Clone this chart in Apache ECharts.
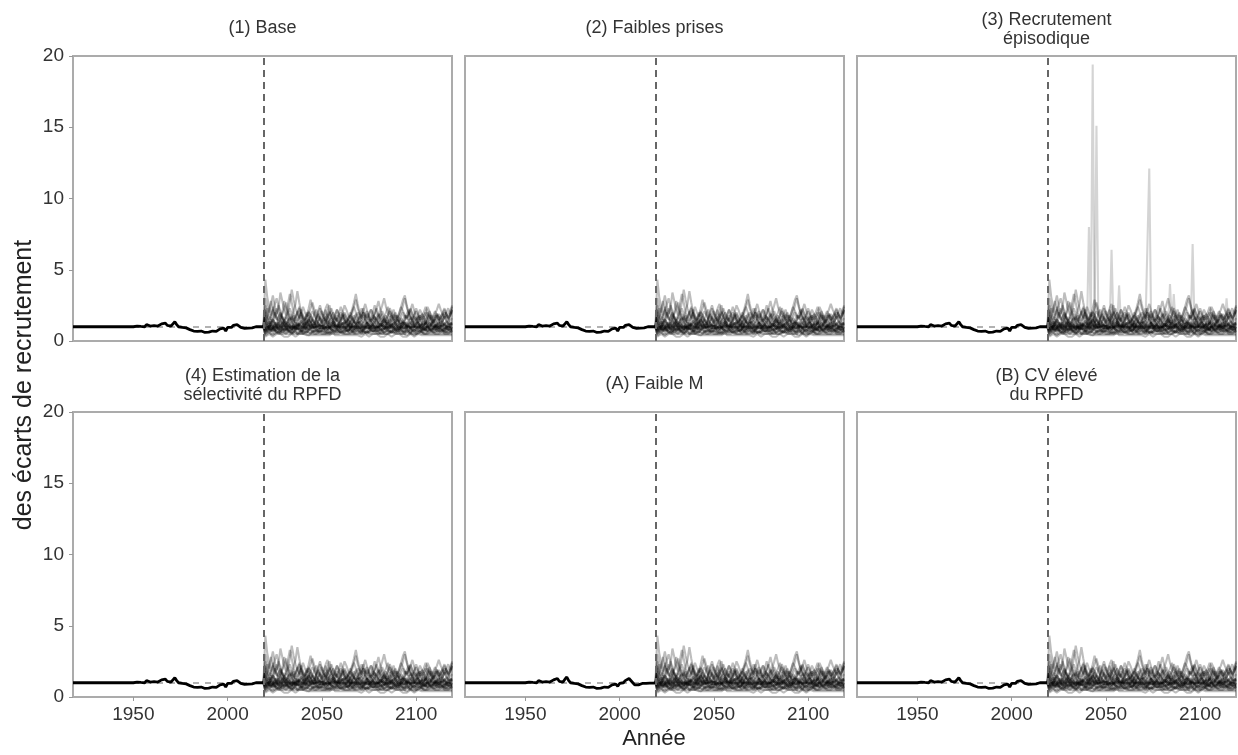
<!DOCTYPE html>
<html>
<head>
<meta charset="utf-8">
<script src="https://cdn.jsdelivr.net/npm/echarts@6/dist/echarts.min.js"></script>
<style>
html,body{margin:0;padding:0;background:#fff;}
#chart{width:1238px;height:755px;}
</style>
</head>
<body>
<div id="chart"></div>
<script>
// ---------- DATA ----------
const panelTitles = ['(1) Base', '(2) Faibles prises', '(3) Recrutement\népisodique',
  '(4) Estimation de la\nsélectivité du RPFD', '(A) Faible M', '(B) CV élevé\ndu RPFD'];
const yTicks = [0, 5, 10, 15, 20];
const xTicks = [1950, 2000, 2050, 2100];
const xRange = [1918, 2119];
const histStartYear = 1918;
const projectionYear = 2019;
const simStartYear = 2020;
const refLevel = 1;
const yAxisTitle = 'des écarts de recrutement';
const xAxisTitle = 'Année';

// historical recruitment deviations 1918..2019
const histValues = [
  1,1,1,1,1,1,1,1,1,1, 1,1,1,1,1,1,1,1,1,1, 1,1,1,1,1,1,1,1,1,1, 1,
  1.0,1.0,0.98,1.05,0.95,1.02,1.1,1.0,1.15,1.2,
  1.05,1.1,1.08,1.12,1.05,1.1,1.2,1.15,1.25,1.1,
  1.2,1.05,1.2,1.35,1.15,1.0,0.95,0.95,0.9,0.92,
  0.85,0.8,0.75,0.7,0.72,0.68,0.65,0.7,0.62,0.6,
  0.5,0.62,0.55,0.7,0.75,0.68,0.8,0.85,0.78,0.9,
  0.7,0.95,1.05,0.95,1.1,1.0,1.15,1.05,0.95,0.85,
  0.88,0.85,0.9,0.95,0.92,0.95,1.0,0.98,1.0,0.97,
  1.0
];
// panel (A) historical series (slightly larger bump near 2005)
const histValuesA = [
  1,1,1,1,1,1,1,1,1,1, 1,1,1,1,1,1,1,1,1,1, 1,1,1,1,1,1,1,1,1,1, 1,
  1.0,1.0,0.98,1.05,0.95,1.02,1.1,1.0,1.15,1.2,
  1.05,1.1,1.08,1.12,1.05,1.1,1.2,1.15,1.3,1.1,
  1.2,1.05,1.25,1.4,1.15,1.0,0.95,0.95,0.9,0.92,
  0.85,0.8,0.75,0.7,0.72,0.68,0.65,0.7,0.62,0.6,
  0.5,0.62,0.55,0.7,0.75,0.68,0.8,0.85,0.78,0.9,
  0.75,0.95,1.05,1.0,1.15,1.1,1.3,1.2,1.0,0.85,
  0.88,0.85,0.9,0.95,0.92,0.95,1.0,0.98,1.0,0.97,
  1.0
];

// projected runs 2020..2119
const simRuns = [
 [4.3,3.1,2.4,1.8,2.2,1.6,1.9,2.5,2.1,1.7,1.5,1.8,2.6,3.3,2.7,2.0,1.6,1.9,2.3,1.8,1.4,1.6,2.0,1.7,1.3,1.5,1.9,2.2,1.8,1.5,1.2,1.6,1.4,1.8,2.1,1.7,1.5,1.3,1.6,1.9,2.4,2.0,1.7,1.4,1.6,1.8,1.5,1.3,1.7,2.0,1.8,1.6,2.2,2.6,2.1,1.7,1.5,1.8,1.6,1.4,1.7,1.9,1.6,1.3,1.5,1.8,2.3,2.0,1.7,1.5,1.6,1.4,1.2,1.5,1.8,1.6,1.9,2.2,1.8,1.5,1.3,1.6,1.8,1.5,1.7,2.0,1.6,1.4,1.2,1.5,1.8,1.6,1.4,1.7,1.9,1.6,1.5,1.8,2.1,2.4],
 [3.0,2.4,2.0,2.6,3.2,2.5,1.9,2.3,3.4,2.8,2.2,1.8,2.0,2.7,3.6,2.9,2.3,1.9,1.6,2.0,2.4,2.0,1.7,1.9,2.3,2.7,2.2,1.8,1.6,1.9,2.1,1.8,2.3,2.6,2.0,1.7,1.5,1.8,2.2,1.9,1.6,2.0,2.5,2.2,1.8,1.6,1.9,2.4,2.9,2.3,1.9,1.7,2.0,1.8,1.6,1.9,2.2,2.0,1.7,1.5,1.8,2.1,2.5,3.0,2.4,2.0,1.7,1.9,2.2,1.8,1.6,1.9,2.4,2.1,1.8,1.6,1.9,2.3,1.9,1.7,1.5,1.8,2.2,1.9,1.7,2.0,2.4,2.1,1.8,1.6,1.9,2.2,2.6,2.2,1.9,1.7,2.0,2.3,1.9,2.0],
 [2.5,1.9,1.5,1.8,2.4,2.0,1.6,1.3,1.6,2.0,2.8,2.3,1.8,1.5,1.7,2.1,2.6,3.5,2.7,2.0,1.6,1.4,1.7,2.0,1.8,1.5,1.3,1.6,2.1,2.5,2.0,1.7,1.4,1.6,1.9,2.3,1.9,1.6,1.4,1.7,2.0,1.8,1.5,1.3,1.5,1.8,2.2,2.7,3.3,2.6,2.0,1.7,1.5,1.8,2.1,1.7,1.4,1.6,1.9,2.3,1.9,1.6,1.4,1.2,1.5,1.8,2.1,1.8,1.5,1.3,1.6,2.0,2.4,2.9,3.2,2.5,2.0,1.7,1.5,1.8,2.1,1.8,1.5,1.7,2.0,2.4,2.0,1.7,1.5,1.3,1.6,1.9,1.7,1.5,1.8,2.2,1.9,1.6,1.8,2.1],
 [1.8,1.4,1.2,1.5,1.3,1.0,1.2,1.6,1.9,1.5,1.2,1.0,1.3,1.6,1.4,1.1,0.9,1.2,1.5,1.8,1.4,1.1,1.3,1.0,1.2,1.5,1.3,1.0,0.9,1.2,1.5,1.8,2.2,1.7,1.3,1.1,1.3,1.6,1.4,1.1,1.0,1.2,1.4,1.2,1.0,1.3,1.6,1.4,1.2,1.0,1.3,1.5,1.8,1.5,1.2,1.0,1.1,1.4,1.7,1.4,1.2,1.0,1.3,1.5,1.2,1.0,1.2,1.4,1.7,2.0,1.6,1.3,1.1,1.3,1.0,1.2,1.5,1.3,1.1,1.4,1.6,1.3,1.0,1.2,1.4,1.2,1.5,1.8,1.4,1.2,1.0,1.3,1.5,1.2,1.4,1.7,1.4,1.2,1.1,1.3],
 [1.2,0.9,1.1,0.8,1.0,1.3,1.1,0.9,0.7,1.0,1.2,1.4,1.1,0.9,1.0,0.8,1.1,1.3,1.0,0.8,0.9,1.1,1.4,1.2,0.9,0.8,1.0,1.2,1.0,0.9,1.1,0.9,0.8,1.0,1.3,1.6,1.2,1.0,0.9,1.1,1.3,1.1,0.9,0.8,1.0,1.2,1.0,0.8,0.9,1.1,1.4,1.2,1.0,0.9,1.1,0.9,0.8,1.0,1.2,1.5,1.2,1.0,0.9,1.1,1.3,1.1,0.9,0.8,1.0,1.2,1.0,0.8,0.9,1.1,1.3,1.0,0.9,1.1,1.4,1.1,0.9,1.0,1.2,1.0,0.8,0.9,1.1,1.3,1.1,0.9,1.0,1.2,1.0,0.9,1.1,1.3,1.0,0.9,1.0,1.2],
 [0.7,1.0,0.8,1.1,0.9,0.7,0.8,1.0,1.2,0.9,0.8,0.7,0.9,1.1,0.9,0.8,1.0,0.8,0.7,0.9,1.1,1.3,1.0,0.8,0.7,0.9,0.8,1.0,1.2,0.9,0.8,0.9,0.7,0.8,1.0,0.9,1.1,0.9,0.8,0.7,0.9,1.0,0.8,1.1,1.3,1.0,0.8,0.7,0.9,0.8,1.0,0.9,0.7,0.8,1.0,1.2,0.9,0.8,0.9,1.1,0.9,0.7,0.8,1.0,0.9,0.8,1.0,1.2,1.0,0.8,0.7,0.9,1.1,0.9,0.8,0.9,0.7,0.8,1.0,0.9,1.1,1.3,1.0,0.8,0.9,0.8,1.0,0.9,0.7,0.8,1.0,0.9,0.8,1.0,1.2,0.9,0.8,0.9,1.0,0.8],
 [0.6,0.8,0.7,0.9,0.7,0.6,0.8,0.7,0.6,0.8,1.0,0.8,0.7,0.6,0.7,0.9,0.8,0.6,0.5,0.7,0.8,0.7,0.9,1.1,0.9,0.7,0.6,0.7,0.8,0.7,0.6,0.7,0.9,0.8,0.6,0.7,0.8,1.0,0.8,0.7,0.6,0.5,0.7,0.8,0.7,0.9,0.8,0.6,0.7,0.8,0.7,0.6,0.8,0.9,1.1,0.9,0.7,0.6,0.7,0.8,0.7,0.9,0.8,0.6,0.5,0.7,0.8,0.7,0.9,0.8,0.6,0.7,0.8,0.7,0.6,0.8,1.0,0.8,0.7,0.6,0.7,0.8,0.6,0.7,0.9,0.8,0.7,0.6,0.8,0.7,0.9,0.7,0.6,0.7,0.8,0.7,0.9,0.8,0.7,0.8],
 [0.4,0.5,0.6,0.5,0.4,0.5,0.7,0.6,0.5,0.4,0.5,0.6,0.5,0.4,0.5,0.6,0.7,0.5,0.4,0.5,0.6,0.5,0.4,0.4,0.5,0.6,0.5,0.7,0.6,0.5,0.4,0.5,0.6,0.5,0.4,0.5,0.6,0.5,0.4,0.5,0.7,0.6,0.5,0.4,0.5,0.6,0.5,0.4,0.5,0.6,0.5,0.4,0.5,0.6,0.7,0.5,0.4,0.5,0.6,0.5,0.4,0.5,0.6,0.5,0.4,0.5,0.6,0.7,0.6,0.5,0.4,0.5,0.6,0.5,0.4,0.4,0.5,0.6,0.5,0.4,0.5,0.6,0.7,0.5,0.4,0.5,0.6,0.5,0.4,0.5,0.6,0.5,0.4,0.5,0.6,0.5,0.4,0.5,0.6,0.5],
 [1.5,1.1,0.9,1.2,1.6,1.3,1.0,0.8,1.1,1.4,1.2,0.9,1.0,1.3,1.7,1.4,1.1,0.9,1.2,1.0,0.8,1.1,1.4,1.8,1.4,1.1,0.9,1.0,1.3,1.1,0.9,1.2,1.5,1.2,1.0,0.8,1.0,1.3,1.6,1.3,1.1,0.9,1.2,1.4,1.1,0.9,1.1,1.5,1.9,1.5,1.2,1.0,0.8,1.0,1.3,1.1,0.9,1.2,1.4,1.1,0.9,1.1,1.3,1.6,1.3,1.0,0.9,1.1,1.4,1.2,1.0,0.8,1.1,1.4,1.2,1.0,1.3,1.7,1.4,1.1,0.9,1.2,1.0,0.8,1.1,1.3,1.1,0.9,1.2,1.5,1.2,1.0,0.9,1.1,1.4,1.1,0.9,1.2,1.3,1.1],
 [0.9,0.7,0.6,0.8,1.0,0.8,0.6,0.5,0.7,0.9,0.7,0.6,0.8,0.7,0.5,0.6,0.8,1.0,0.8,0.6,0.7,0.9,0.7,0.6,0.5,0.7,0.8,0.6,0.7,0.9,1.1,0.8,0.6,0.7,0.5,0.6,0.8,0.7,0.6,0.8,0.9,0.7,0.6,0.8,0.7,0.5,0.6,0.8,1.0,0.8,0.6,0.7,0.8,0.6,0.5,0.7,0.9,0.7,0.6,0.8,0.7,0.5,0.6,0.8,1.0,0.8,0.7,0.6,0.7,0.9,0.7,0.6,0.8,0.7,0.5,0.6,0.7,0.9,0.7,0.6,0.8,1.0,0.8,0.6,0.7,0.5,0.6,0.8,0.7,0.6,0.7,0.9,0.7,0.6,0.8,0.7,0.6,0.7,0.9,0.8],
 [2.0,1.6,1.3,1.1,1.4,1.8,2.3,1.9,1.5,1.2,1.4,1.7,1.5,1.2,1.0,1.3,1.6,2.0,2.4,1.9,1.5,1.3,1.1,1.4,1.7,1.4,1.2,1.5,1.9,1.6,1.3,1.1,1.3,1.6,2.0,1.7,1.4,1.2,1.0,1.3,1.6,1.9,1.5,1.3,1.1,1.4,1.7,1.4,1.2,1.5,1.8,2.3,1.9,1.5,1.3,1.1,1.4,1.6,1.3,1.1,1.4,1.7,2.1,1.7,1.4,1.2,1.5,1.8,1.5,1.3,1.1,1.4,1.6,1.3,1.5,1.9,2.2,1.8,1.4,1.2,1.4,1.7,1.4,1.2,1.0,1.3,1.6,1.9,1.5,1.3,1.5,1.8,1.5,1.2,1.4,1.7,2.0,1.6,1.4,1.6],
 [1.1,0.8,1.0,1.2,0.9,0.8,1.0,0.9,1.1,1.3,1.0,0.8,0.7,0.9,1.1,0.9,1.0,1.2,1.0,0.8,0.9,0.8,1.0,1.2,1.4,1.1,0.9,0.8,1.0,0.9,0.8,1.0,1.1,0.9,0.8,1.0,1.2,1.0,0.9,1.1,0.9,0.8,1.0,0.9,0.7,0.9,1.1,1.3,1.0,0.9,0.8,1.0,0.9,1.1,0.9,0.8,0.9,1.1,1.0,0.8,1.0,1.2,1.0,0.9,0.8,1.0,0.9,1.1,1.3,1.0,0.9,0.8,1.0,1.1,0.9,0.8,1.0,0.9,0.8,1.0,1.2,1.0,0.9,1.1,0.9,0.8,1.0,1.2,1.0,0.9,0.8,1.0,1.1,0.9,1.0,0.8,0.9,1.1,1.0,0.9],
 [0.8,0.6,0.5,0.7,0.6,0.8,0.7,0.5,0.6,0.7,0.6,0.5,0.6,0.8,0.9,0.7,0.6,0.5,0.6,0.7,0.5,0.6,0.7,0.6,0.8,0.7,0.5,0.6,0.5,0.7,0.8,0.6,0.5,0.6,0.7,0.6,0.5,0.7,0.9,0.7,0.6,0.5,0.6,0.7,0.6,0.8,0.7,0.5,0.6,0.7,0.6,0.5,0.7,0.6,0.5,0.6,0.8,0.7,0.6,0.5,0.6,0.7,0.5,0.6,0.7,0.8,0.6,0.5,0.6,0.7,0.8,0.7,0.5,0.6,0.5,0.7,0.6,0.5,0.7,0.6,0.5,0.6,0.7,0.6,0.8,0.7,0.6,0.5,0.6,0.7,0.6,0.5,0.7,0.8,0.6,0.5,0.6,0.7,0.6,0.7],
 [1.3,1.7,2.2,2.8,2.3,1.8,1.5,1.7,2.0,1.6,1.4,1.2,1.5,1.9,1.6,1.4,1.7,2.1,1.7,1.4,1.2,1.5,1.8,2.3,2.9,2.4,1.9,1.6,1.4,1.7,1.5,1.3,1.6,1.9,1.6,1.3,1.5,1.8,2.2,1.8,1.5,1.7,2.0,1.7,1.4,1.2,1.5,1.8,1.5,1.3,1.6,1.9,2.3,1.9,1.6,1.4,1.7,2.0,2.5,2.0,1.7,1.4,1.2,1.5,1.8,1.5,1.3,1.6,1.9,1.6,1.4,1.7,2.0,2.5,3.0,2.4,1.9,1.6,1.4,1.7,1.5,1.3,1.6,1.9,1.6,1.4,1.7,2.1,1.7,1.4,1.6,1.9,1.6,1.4,1.7,2.0,1.7,1.5,1.8,2.2],
 [1.0,1.2,1.4,1.1,0.9,1.0,1.3,1.1,0.9,1.1,1.3,1.0,0.9,1.1,1.2,1.0,0.8,0.9,1.1,1.3,1.1,0.9,1.0,1.2,1.0,0.9,1.1,1.4,1.2,1.0,0.9,1.1,1.0,0.8,1.0,1.2,1.4,1.1,1.0,0.9,1.1,1.3,1.1,0.9,1.0,1.2,1.0,0.9,1.1,1.0,0.9,1.1,1.3,1.5,1.2,1.0,0.9,1.1,1.0,0.8,1.0,1.2,1.1,0.9,1.0,1.3,1.1,0.9,0.8,1.0,1.2,1.0,0.9,1.1,1.3,1.1,1.0,0.9,1.1,1.2,1.0,0.8,1.0,1.2,1.4,1.1,0.9,1.0,1.2,1.0,0.9,1.1,1.3,1.0,0.9,1.1,1.2,1.0,1.1,1.3],
 [0.5,0.7,0.9,0.8,0.6,0.7,0.9,0.8,0.7,0.6,0.8,1.0,0.8,0.7,0.6,0.8,0.7,0.9,0.7,0.6,0.7,0.8,0.6,0.7,0.9,0.8,1.0,0.8,0.7,0.6,0.7,0.9,0.8,0.6,0.7,0.8,0.7,0.6,0.8,1.0,0.8,0.7,0.6,0.7,0.9,0.8,0.6,0.7,0.8,0.7,0.9,0.8,0.6,0.7,0.6,0.8,0.9,0.7,0.6,0.7,0.8,0.7,0.9,1.0,0.8,0.7,0.6,0.8,0.7,0.6,0.7,0.9,0.8,0.6,0.7,0.8,0.7,0.6,0.8,0.9,0.7,0.6,0.7,0.8,0.6,0.7,0.9,0.8,0.7,0.6,0.8,0.7,0.6,0.8,0.9,0.7,0.8,0.6,0.7,0.8],
 [1.6,1.3,1.1,1.3,1.5,1.2,1.0,1.2,1.4,1.7,1.4,1.2,1.0,1.1,1.3,1.6,1.3,1.1,1.2,1.4,1.2,1.0,1.2,1.5,1.3,1.1,1.0,1.2,1.4,1.6,1.3,1.1,1.3,1.1,0.9,1.1,1.4,1.2,1.0,1.2,1.4,1.6,1.3,1.1,1.2,1.0,1.2,1.4,1.2,1.1,1.3,1.1,0.9,1.1,1.3,1.5,1.3,1.1,1.2,1.0,1.2,1.4,1.2,1.0,1.1,1.3,1.5,1.2,1.0,1.2,1.4,1.2,1.1,1.3,1.1,0.9,1.1,1.3,1.5,1.2,1.1,1.3,1.1,1.0,1.2,1.4,1.2,1.0,1.1,1.3,1.5,1.3,1.1,1.2,1.0,1.2,1.4,1.2,1.1,1.2],
 [0.3,0.4,0.5,0.4,0.3,0.4,0.5,0.6,0.5,0.4,0.3,0.4,0.3,0.4,0.5,0.4,0.3,0.4,0.5,0.4,0.5,0.6,0.4,0.3,0.4,0.3,0.4,0.5,0.4,0.3,0.4,0.5,0.4,0.3,0.4,0.5,0.6,0.4,0.3,0.4,0.3,0.4,0.5,0.4,0.3,0.4,0.3,0.4,0.5,0.4,0.4,0.3,0.4,0.5,0.4,0.3,0.4,0.5,0.6,0.5,0.4,0.3,0.4,0.3,0.4,0.5,0.4,0.3,0.4,0.5,0.4,0.5,0.4,0.3,0.4,0.3,0.4,0.5,0.4,0.3,0.4,0.5,0.6,0.4,0.3,0.4,0.3,0.4,0.5,0.4,0.3,0.4,0.5,0.4,0.3,0.4,0.5,0.4,0.3,0.4],
 [0.9,1.1,0.9,0.7,0.9,1.1,1.0,0.8,0.9,1.0,0.9,1.1,1.3,1.0,0.8,0.9,1.0,0.9,1.1,0.9,0.8,1.0,0.9,0.8,1.0,1.1,0.9,1.0,0.8,0.9,1.1,1.0,0.9,1.1,0.9,0.8,1.0,0.9,1.2,1.0,0.9,1.0,0.8,1.0,1.1,0.9,0.8,1.0,0.9,1.1,1.0,0.8,0.9,1.0,1.1,0.9,1.0,1.2,1.0,0.9,0.8,1.0,0.9,1.1,1.0,0.9,0.8,1.0,1.1,0.9,1.0,1.1,0.9,0.8,1.0,0.9,1.1,1.0,0.9,0.8,1.0,1.1,0.9,1.0,0.8,1.0,1.1,0.9,1.0,1.2,1.0,0.9,0.8,1.0,1.1,0.9,1.0,0.8,0.9,1.0],
 [2.2,1.7,1.4,1.7,2.1,2.6,3.0,2.4,1.9,1.6,1.4,1.6,1.9,2.3,1.9,1.6,1.3,1.5,1.8,2.2,1.8,1.5,1.3,1.5,1.8,2.1,1.8,1.5,1.3,1.6,1.9,1.6,1.4,1.2,1.5,1.7,2.0,1.7,1.5,1.3,1.5,1.8,1.5,1.3,1.6,2.0,1.7,1.4,1.2,1.4,1.7,1.5,1.3,1.6,1.9,1.6,1.4,1.6,1.9,2.3,2.8,2.2,1.8,1.5,1.3,1.5,1.7,1.4,1.3,1.5,1.8,1.6,1.4,1.2,1.5,1.8,1.5,1.4,1.6,1.9,2.3,1.9,1.6,1.4,1.7,1.4,1.2,1.5,1.8,1.5,1.3,1.6,1.9,1.6,1.4,1.7,1.5,1.3,1.7,2.5],
 [0.8,1.0,0.9,0.7,0.8,1.0,1.1,0.9,0.8,0.9,0.7,0.8,1.0,0.9,0.8,1.1,1.2,0.9,0.8,0.7,0.9,1.0,0.8,0.9,1.1,0.9,0.7,0.8,0.9,1.0,0.8,0.7,0.9,1.1,1.0,0.8,0.9,0.8,0.7,0.9,1.0,1.2,0.9,0.8,0.7,0.8,1.0,0.9,0.8,1.0,0.9,0.7,0.8,0.9,1.1,1.0,0.8,0.7,0.9,0.8,1.0,0.9,0.8,0.7,0.9,1.0,1.2,1.0,0.8,0.9,0.8,0.7,0.9,1.0,0.8,0.9,1.1,0.9,0.8,0.7,0.9,0.8,1.0,1.1,0.9,0.8,0.7,0.9,1.0,0.8,0.9,1.1,0.9,0.8,0.7,0.9,1.0,0.8,0.9,0.8],
 [1.3,1.0,1.2,1.4,1.1,0.9,1.1,1.3,1.0,1.2,1.5,1.2,1.0,1.1,0.9,1.1,1.3,1.1,1.0,1.2,1.0,1.3,1.6,1.2,1.0,1.1,1.3,1.0,0.9,1.1,1.2,1.0,1.1,1.4,1.2,1.0,1.2,1.1,0.9,1.0,1.2,1.1,1.3,1.0,1.1,1.4,1.2,1.0,1.1,1.3,1.1,0.9,1.0,1.2,1.1,1.3,1.5,1.2,1.0,1.1,1.0,1.2,1.1,0.9,1.1,1.3,1.1,1.0,1.2,1.4,1.1,1.0,1.2,1.1,0.9,1.0,1.2,1.3,1.1,1.0,1.2,1.4,1.1,1.0,1.1,1.3,1.0,0.9,1.1,1.2,1.0,1.1,1.3,1.1,1.0,1.2,1.1,0.9,1.1,1.2],
 [0.7,0.6,0.8,0.7,0.9,0.8,0.6,0.7,0.8,0.6,0.7,0.9,0.8,0.6,0.7,0.6,0.8,0.7,0.9,0.8,0.6,0.7,0.6,0.8,0.7,0.6,0.8,0.9,0.7,0.6,0.7,0.8,0.6,0.7,0.9,0.8,0.7,0.6,0.7,0.8,0.6,0.7,0.8,0.7,0.6,0.8,0.9,0.7,0.6,0.7,0.8,0.7,0.6,0.7,0.8,0.6,0.7,0.9,0.8,0.7,0.6,0.8,0.7,0.6,0.7,0.8,0.7,0.6,0.8,0.9,0.7,0.6,0.7,0.8,0.7,0.9,0.8,0.6,0.7,0.8,0.6,0.7,0.8,0.6,0.7,0.9,0.7,0.6,0.8,0.7,0.6,0.8,0.7,0.9,0.8,0.6,0.7,0.8,0.7,0.6],
 [1.0,0.9,1.1,1.0,0.8,0.9,1.0,1.2,1.0,0.9,1.1,1.0,0.9,0.8,1.0,1.1,0.9,1.0,1.2,1.1,0.9,0.8,1.0,0.9,1.1,1.0,1.2,1.0,0.9,1.1,1.0,0.9,1.0,1.2,1.1,0.9,0.8,1.0,1.1,1.0,0.9,1.1,1.0,0.9,1.2,1.0,0.9,1.0,1.1,0.9,1.0,1.2,1.1,0.9,1.0,0.9,1.1,1.0,0.8,1.0,1.1,1.0,1.2,1.1,0.9,1.0,0.9,1.1,1.0,0.9,1.0,1.1,0.9,1.0,1.2,1.0,0.9,1.0,1.1,1.0,0.9,1.0,1.1,0.9,1.0,1.2,1.1,0.9,1.0,0.9,1.1,1.0,0.9,1.1,1.0,0.9,1.0,1.2,1.0,0.9],
 [0.5,0.6,0.7,0.5,0.6,0.5,0.4,0.6,0.7,0.6,0.5,0.6,0.5,0.7,0.6,0.5,0.6,0.5,0.4,0.6,0.7,0.6,0.5,0.6,0.7,0.5,0.6,0.5,0.6,0.7,0.5,0.6,0.5,0.4,0.6,0.7,0.6,0.5,0.6,0.5,0.6,0.7,0.5,0.6,0.5,0.6,0.7,0.6,0.5,0.4,0.6,0.5,0.6,0.7,0.6,0.5,0.6,0.5,0.7,0.6,0.5,0.6,0.7,0.5,0.6,0.5,0.4,0.6,0.5,0.6,0.7,0.6,0.5,0.6,0.5,0.7,0.6,0.5,0.6,0.5,0.6,0.5,0.6,0.7,0.5,0.6,0.5,0.6,0.7,0.6,0.5,0.6,0.5,0.6,0.7,0.5,0.6,0.5,0.6,0.7],
 [1.4,1.2,1.0,1.3,1.5,1.3,1.1,1.2,1.4,1.2,1.0,1.2,1.4,1.6,1.3,1.1,1.2,1.0,1.2,1.4,1.3,1.1,1.3,1.5,1.2,1.0,1.2,1.4,1.3,1.1,1.2,1.5,1.7,1.4,1.2,1.1,1.3,1.2,1.0,1.2,1.4,1.2,1.1,1.3,1.5,1.3,1.1,1.2,1.0,1.3,1.2,1.4,1.2,1.1,1.3,1.2,1.0,1.2,1.4,1.6,1.3,1.2,1.1,1.3,1.2,1.4,1.2,1.0,1.2,1.3,1.5,1.3,1.1,1.2,1.4,1.2,1.1,1.3,1.2,1.0,1.2,1.3,1.5,1.3,1.1,1.2,1.4,1.2,1.1,1.3,1.2,1.0,1.2,1.4,1.3,1.1,1.2,1.4,1.2,1.3],
 [0.9,0.8,1.0,0.9,1.1,0.9,0.8,0.9,1.0,0.8,0.9,1.0,0.8,0.9,0.8,1.0,0.9,0.8,1.0,0.9,1.1,0.9,0.8,0.9,0.8,1.0,0.9,1.0,0.8,0.9,0.9,0.8,1.0,0.9,0.8,0.9,1.1,0.9,0.8,1.0,0.8,0.9,1.0,0.9,0.8,1.0,0.9,0.8,0.9,1.1,0.9,0.8,0.9,1.0,0.8,0.9,1.0,0.9,0.8,0.9,1.0,0.8,0.9,0.8,1.0,0.9,0.8,1.0,0.9,0.8,0.9,1.0,0.9,0.8,0.9,1.1,0.9,0.8,1.0,0.9,0.8,0.9,1.0,0.8,0.9,0.8,1.0,0.9,0.8,1.0,0.9,0.8,1.0,0.9,0.8,0.9,0.8,1.0,0.9,0.8],
 [1.9,2.3,1.8,1.5,1.7,2.0,1.7,1.4,1.6,1.9,2.2,2.7,2.1,1.7,1.5,1.8,1.6,1.4,1.7,2.0,1.7,1.5,1.8,2.1,1.8,1.5,1.3,1.6,1.9,2.3,1.9,1.6,1.8,2.1,2.5,2.0,1.7,1.5,1.8,1.6,1.4,1.6,1.9,1.6,1.4,1.7,2.1,2.4,2.0,1.7,1.5,1.7,2.0,1.7,1.5,1.8,2.2,1.8,1.5,1.7,1.9,1.6,1.4,1.7,2.0,2.4,2.0,1.7,1.5,1.8,1.6,1.4,1.7,2.0,1.7,1.5,1.8,2.2,2.6,2.1,1.7,1.5,1.8,1.6,1.4,1.7,2.0,1.7,1.5,1.8,2.1,1.8,1.5,1.7,2.0,2.3,1.9,1.6,1.8,2.2]
];
// extra runs with episodic spikes, panel (3) only, 2020..2119
const episodicRuns = [
 [1.0,0.8,1.1,1.3,1.0,0.9,1.2,1.0,0.8,1.1,1.3,1.1,0.9,1.0,1.2,1.0,0.8,0.9,1.1,1.2,1.0,8.0,1.2,19.4,1.1,0.9,1.0,1.2,1.0,0.8,1.1,0.9,1.0,1.2,1.0,0.9,1.1,3.9,1.2,1.0,0.9,1.1,1.0,0.8,1.0,1.2,1.1,0.9,1.0,1.1,0.9,1.0,1.2,1.0,0.9,1.1,1.0,0.8,1.0,1.2,1.0,0.9,1.1,1.3,4.0,1.2,3.3,1.1,0.9,1.0,1.2,1.0,0.9,1.1,1.0,0.8,1.0,1.2,1.0,0.9,1.1,1.0,0.9,1.2,1.0,0.8,1.0,1.1,0.9,1.0,1.2,1.0,0.9,1.1,3.0,1.2,1.0,0.9,1.1,1.0],
 [1.2,1.0,0.9,1.1,1.3,1.0,0.9,1.1,1.2,1.0,0.8,1.0,1.2,1.1,0.9,1.0,1.2,1.0,0.9,1.1,1.3,1.1,1.0,0.9,1.1,15.1,1.2,1.0,0.9,1.1,1.0,0.8,1.0,6.4,1.1,0.9,1.0,1.2,1.0,0.9,1.1,1.0,0.8,1.0,1.2,1.0,0.9,1.1,1.3,1.0,0.9,1.1,1.0,12.1,1.2,1.0,0.9,1.1,1.0,0.8,1.0,1.2,1.0,0.9,1.1,1.0,0.9,1.2,1.0,0.9,1.1,1.0,0.8,1.0,1.2,1.0,6.8,1.1,0.9,1.0,1.2,1.0,0.9,1.1,1.0,0.8,1.0,1.2,1.0,0.9,1.1,1.0,0.9,1.2,1.0,0.9,1.1,1.0,0.8,1.0]
];

// ---------- LAYOUT ----------
const colLeft = [73, 465, 857];
const rowTop = [56, 412];
const panelW = 379, panelH = 285;
const FONT = '"Liberation Sans", Arial, sans-serif';

const grids = [], xAxes = [], yAxes = [], series = [], graphics = [];

function toPairs(start, vals) { return vals.map((v, k) => [start + k, v]); }

for (let i = 0; i < 6; i++) {
  const row = Math.floor(i / 3), col = i % 3;
  grids.push({ left: colLeft[col], top: rowTop[row], width: panelW, height: panelH,
    show: true, borderColor: '#ababab', borderWidth: 2, backgroundColor: 'transparent' });
  xAxes.push({ type: 'value', gridIndex: i, min: xRange[0], max: xRange[1],
    axisLine: { show: false }, splitLine: { show: false },
    axisTick: { show: row === 1, customValues: xTicks, length: 4, lineStyle: { color: '#999', width: 1 } },
    axisLabel: { show: row === 1, customValues: xTicks, fontSize: 19, color: '#333', margin: 8, fontFamily: FONT,
      formatter: v => String(v) } });
  yAxes.push({ type: 'value', gridIndex: i, min: yTicks[0], max: yTicks[yTicks.length - 1], interval: 5,
    axisLine: { show: false }, splitLine: { show: false },
    axisTick: { show: col === 0, length: 4, lineStyle: { color: '#999', width: 1 } },
    axisLabel: { show: col === 0, fontSize: 19, color: '#333', margin: 9, fontFamily: FONT } });

  const hv = (i === 4) ? histValuesA : histValues;
  const histData = toPairs(histStartYear, hv);
  const lastHist = hv[hv.length - 1];

  // reference dashed line at 1 (under everything)
  series.push({ type: 'line', xAxisIndex: i, yAxisIndex: i, data: histData, showSymbol: false, symbol: 'none',
    silent: true, z: 1, lineStyle: { opacity: 0 },
    markLine: { silent: true, symbol: 'none', z: 1, label: { show: false },
      data: [{ yAxis: refLevel }], lineStyle: { color: '#999', type: [6, 6], width: 1.5 } } });

  simRuns.forEach(r => {
    series.push({ type: 'line', xAxisIndex: i, yAxisIndex: i, silent: true, z: 2,
      symbol: 'none', showSymbol: false,
      data: [[projectionYear, lastHist]].concat(toPairs(simStartYear, r)),
      lineStyle: { color: 'rgba(0,0,0,0.26)', width: 2.1 } });
  });
  if (i === 2) {
    episodicRuns.forEach(r => {
      series.push({ type: 'line', xAxisIndex: i, yAxisIndex: i, silent: true, z: 2,
        symbol: 'none', showSymbol: false,
        data: [[projectionYear, lastHist]].concat(toPairs(simStartYear, r)),
        lineStyle: { color: 'rgba(0,0,0,0.17)', width: 2.1 } });
    });
  }

  series.push({ type: 'line', xAxisIndex: i, yAxisIndex: i, silent: true, z: 3,
    symbol: 'none', showSymbol: false, data: histData,
    lineStyle: { color: '#000', width: 2.8 },
    markLine: { silent: true, symbol: 'none', z: 6, label: { show: false },
      data: [{ xAxis: projectionYear }], lineStyle: { color: '#666', type: [7, 5], width: 2 } } });

  const twoLine = panelTitles[i].indexOf('\n') >= 0;
  const cy = (row === 0 ? 0 : 356) + (twoLine ? 30 : 28);
  graphics.push({ type: 'text', x: colLeft[col] + panelW / 2, y: cy,
    style: { text: panelTitles[i], font: '18px ' + FONT, fill: '#333', align: 'center', verticalAlign: 'middle', lineHeight: 19 },
    z: 10 });
}

graphics.push({ type: 'text', x: 24, y: 385, rotation: Math.PI / 2,
  style: { text: yAxisTitle, font: '25px ' + FONT, fill: '#222', align: 'center', verticalAlign: 'middle' } });
graphics.push({ type: 'text', x: 654, y: 739,
  style: { text: xAxisTitle, font: '22px ' + FONT, fill: '#222', align: 'center', verticalAlign: 'middle' } });

const chart = echarts.init(document.getElementById('chart'), null, { renderer: 'canvas' });
chart.setOption({
  animation: false,
  backgroundColor: '#fff',
  textStyle: { fontFamily: FONT },
  grid: grids, xAxis: xAxes, yAxis: yAxes, series: series,
  graphic: graphics
});
</script>
</body>
</html>
